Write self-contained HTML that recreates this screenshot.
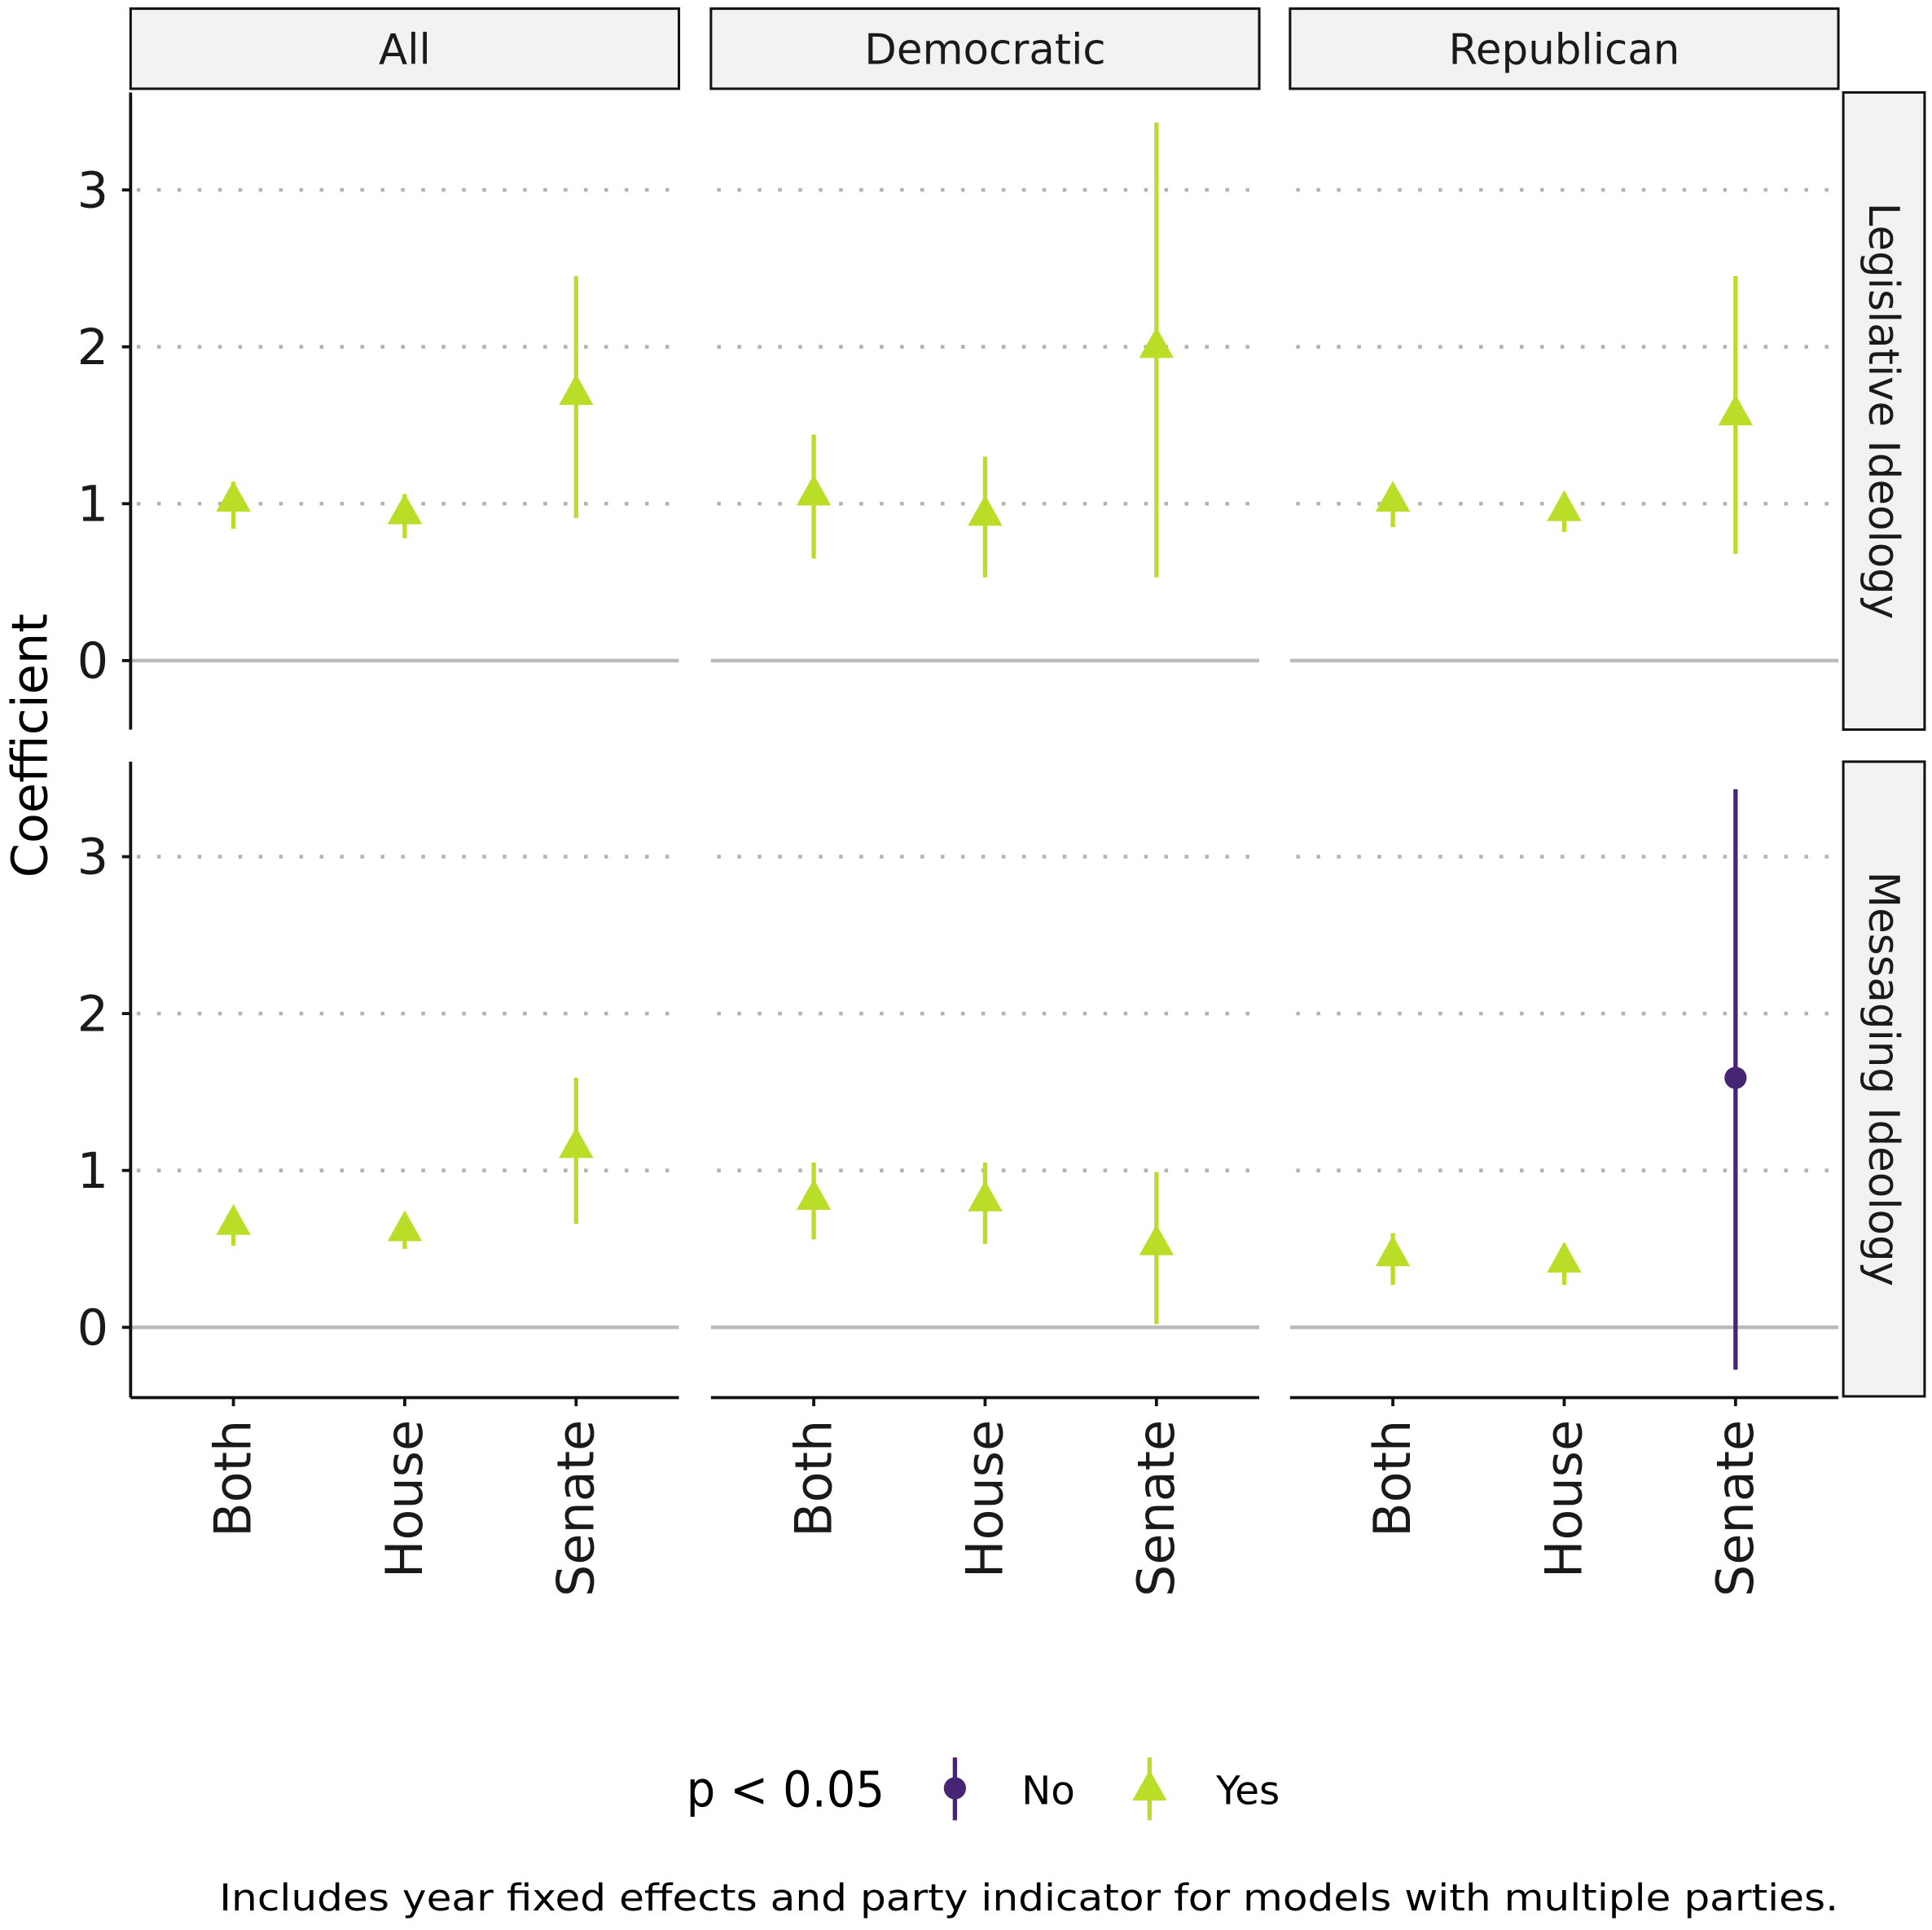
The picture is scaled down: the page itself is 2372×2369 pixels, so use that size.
<!DOCTYPE html>
<html><head><meta charset="utf-8"><style>
html,body{margin:0;padding:0;background:#fff;}
svg{display:block;font-family:"DejaVu Sans","Liberation Sans",sans-serif;}
</style></head><body>
<svg id="chart" width="2372" height="2369" viewBox="0 0 1568 1566" xmlns="http://www.w3.org/2000/svg">
<rect width="1568" height="1566" fill="#fff"/>
<g id="root"></g>
</svg>
<script>
const columns = ["All","Democratic","Republican"];
const rows = ["Legislative Ideology","Messaging Ideology"];
const categories = ["Both","House","Senate"];
const yTicks = [0,1,2,3];
const estLeg = [[1.02,0.94,1.70],[1.06,0.93,2.00],[1.02,0.96,1.57]];
const loLeg  = [[0.84,0.78,0.91],[0.65,0.53,0.53],[0.85,0.82,0.68]];
const hiLeg  = [[1.14,1.06,2.45],[1.44,1.30,3.43],[1.12,1.07,2.45]];
const estMsg = [[0.66,0.62,1.15],[0.82,0.81,0.53],[0.46,0.42,1.59]];
const loMsg  = [[0.52,0.50,0.66],[0.56,0.53,0.02],[0.27,0.27,-0.27]];
const hiMsg  = [[0.73,0.70,1.59],[1.05,1.05,0.99],[0.60,0.53,3.43]];
const sigLeg = [["Yes","Yes","Yes"],["Yes","Yes","Yes"],["Yes","Yes","Yes"]];
const sigMsg = [["Yes","Yes","Yes"],["Yes","Yes","Yes"],["Yes","Yes","No"]];

const NS="http://www.w3.org/2000/svg";
const root=document.getElementById('root');
function mk(tag,attrs,parent,text){const e=document.createElementNS(NS,tag);for(const k in attrs)e.setAttribute(k,attrs[k]);if(text!==undefined)e.textContent=text;(parent||root).appendChild(e);return e;}
const GREEN="#BADE28", PURPLE="#482475";
const panelX=[106,577,1047], panelW=445;
const rowTop=[75,618], rowBot=[592,1133], rowZero=[536,1077], unit=127.3;
function xScale(c,i){return panelX[c]+panelW*(0.6+i)/3.2;}
function yScale(r,v){return rowZero[r]-v*unit;}

columns.forEach((name,c)=>{
  const g=mk('g',{});
  
  
  mk('rect',{x:panelX[c],y:7,width:panelW,height:65,fill:'#f2f2f2',stroke:'#111','stroke-width':2},g);
  mk('text',{x:panelX[c]+panelW/2,y:52,'text-anchor':'middle','font-size':34,fill:'#1a1a1a'},g,name);
});
rows.forEach((name,r)=>{
  const g=mk('g',{});
  
  
  mk('rect',{x:1496,y:rowTop[r],width:66,height:rowBot[r]-rowTop[r],fill:'#f2f2f2',stroke:'#111','stroke-width':2},g);
  const cy=(rowTop[r]+rowBot[r])/2;
  mk('text',{x:1517,y:cy,'text-anchor':'middle','font-size':34,fill:'#1a1a1a',transform:`rotate(90 1517 ${cy})`},g,name);
});

rows.forEach((rn,r)=>{
  const est=r?estMsg:estLeg, lo=r?loMsg:loLeg, hi=r?hiMsg:hiLeg, sig=r?sigMsg:sigLeg;
  columns.forEach((cn,c)=>{
    const g=mk('g',{});
    
    
    yTicks.forEach(t=>{
      const y=yScale(r,t);
      if(t===0) mk('line',{x1:panelX[c],x2:panelX[c]+panelW,y1:y,y2:y,stroke:'#bbbbbb','stroke-width':3},g);
      else mk('line',{x1:panelX[c]+5,x2:panelX[c]+panelW,y1:y,y2:y,stroke:'#b3b3b3','stroke-width':3,'stroke-dasharray':'3 13.5'},g);
    });
    categories.forEach((cat,i)=>{
      const x=xScale(c,i), col=sig[c][i]==="Yes"?GREEN:PURPLE;
      const m=mk('g',{},g);
      
      
      mk('line',{x1:x,x2:x,y1:yScale(r,lo[c][i]),y2:yScale(r,hi[c][i]),stroke:col,'stroke-width':3.5},m);
      const y=yScale(r,est[c][i]);
      if(sig[c][i]==="Yes") mk('polygon',{points:`${x},${y-16} ${x-14},${y+9} ${x+14},${y+9}`,fill:col},m);
      else mk('circle',{cx:x,cy:y,r:9,fill:col},m);
    });
    if(r===1){
      mk('line',{x1:panelX[c],x2:panelX[c]+panelW,y1:1134,y2:1134,stroke:'#111','stroke-width':2.5},g);
      categories.forEach((cat,i)=>{
        const x=xScale(c,i);
        mk('line',{x1:x,x2:x,y1:1134,y2:1141,stroke:'#111','stroke-width':2.5},g);
        const t=mk('text',{x:x+14,y:1152,'text-anchor':'end','font-size':41,fill:'#1a1a1a',transform:`rotate(-90 ${x+14} 1152)`},g,cat);
        
        
      });
    }
  });
  const ax=mk('g',{});
  
  
  mk('line',{x1:106,x2:106,y1:rowTop[r],y2:rowBot[r]+(r?1:0),stroke:'#111','stroke-width':2.5},ax);
  yTicks.forEach(t=>{
    const y=yScale(r,t);
    mk('line',{x1:99,x2:106,y1:y,y2:y,stroke:'#111','stroke-width':2.5},ax);
    mk('text',{x:88,y:y+14,'text-anchor':'end','font-size':40,fill:'#1a1a1a'},ax,String(t));
  });
});

const yt=mk('text',{x:38,y:605,'text-anchor':'middle','font-size':40,fill:'#000',transform:'rotate(-90 38 605)'},root,'Coefficient');



const lg=mk('g',{});


mk('text',{x:557,y:1466,'font-size':40,fill:'#000',textLength:161,lengthAdjust:'spacingAndGlyphs'},lg,'p < 0.05');
mk('line',{x1:775,x2:775,y1:1426,y2:1477,stroke:PURPLE,'stroke-width':3.5},lg);
mk('circle',{cx:775,cy:1451,r:9,fill:PURPLE},lg);
mk('text',{x:829,y:1464,'font-size':32,fill:'#000'},lg,'No');
mk('line',{x1:933,x2:933,y1:1426,y2:1477,stroke:GREEN,'stroke-width':3.5},lg);
mk('polygon',{points:'933,1436 919,1461 947,1461',fill:GREEN},lg);
mk('text',{x:987,y:1464,'font-size':32,fill:'#000'},lg,'Yes');

const cap=mk('text',{x:178,y:1550,'font-size':30,fill:'#000',textLength:1314,lengthAdjust:'spacingAndGlyphs'},root,'Includes year fixed effects and party indicator for models with multiple parties.');


</script>
</body></html>
